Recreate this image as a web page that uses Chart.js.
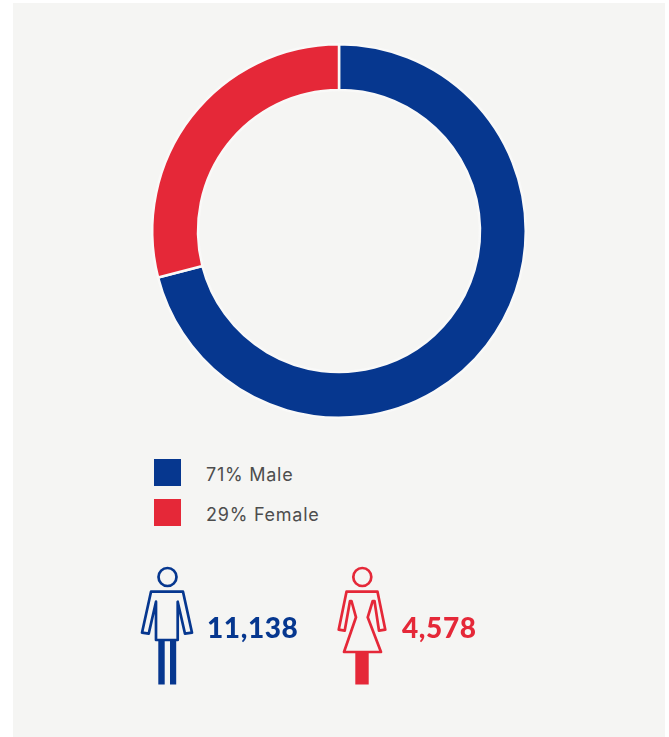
<!DOCTYPE html>
<html>
<head>
<meta charset="utf-8">
<script src="https://cdn.jsdelivr.net/npm/chart.js@4"></script>
<style>
html, body { margin: 0; padding: 0; background: #fff; }
#page { position: relative; width: 669px; height: 737px; overflow: hidden; }
#panel { position: absolute; left: 13px; top: 3px; width: 652px; height: 734px; background: #f5f5f3; }
#donut { position: absolute; left: 139px; top: 31px; width: 400px; height: 400px; }
.key { position: absolute; left: 154px; width: 27px; height: 27px; }
.keytext { position: absolute; left: 206px; font: 400 18px Inter, sans-serif; letter-spacing: 0.75px; color: #4d4d4d; line-height: 20px; white-space: nowrap; }
.count { position: absolute; font: 900 28px Lato, sans-serif; letter-spacing: 0.6px; line-height: 32px; white-space: nowrap; }
svg { position: absolute; left: 0; top: 0; }
</style>
</head>
<body>
<div id="page">
  <div id="panel"></div>
  <div id="donut"><canvas id="chart"></canvas></div>
  <div id="legend"></div>
  <svg width="669" height="737" fill="none" stroke-width="2.7" stroke-linejoin="round">
    <g stroke="#06378f">
      <circle cx="167.5" cy="577" r="9"/>
      <path d="M151 591.7H183L192 632.7L185 633.7L177.7 601.7V640H156V601.7L148.7 633.7L142 632.7Z"/>
      <rect x="158.3" y="640" width="6.4" height="44.5" fill="#06378f" stroke="none"/>
      <rect x="170" y="640" width="6.2" height="44.5" fill="#06378f" stroke="none"/>
    </g>
    <g stroke="#e52838">
      <circle cx="362.3" cy="577" r="9"/>
      <path d="M346.5 591.7H377.5L385.3 629.7L379 630.7L374.5 601H372.7L367.7 617.3L381 652H344L356 617.3L351.5 601H350L344.7 630.7L338.7 629.7Z"/>
      <rect x="355.3" y="652" width="13.4" height="32.5" fill="#e52838" stroke="none"/>
    </g>
  </svg>
  <div class="count" id="count0" style="left:207px;top:611px"></div>
  <div class="count" id="count1" style="left:402px;top:611px"></div>
</div>
<script>
const categories = ['Male', 'Female'];
const shares = [71, 29];
const counts = ['11,138', '4,578'];
const colors = ['#06378f', '#e52838'];

const legendTops = [459, 499];
const legend = document.getElementById('legend');
categories.forEach(function (name, i) {
    const box = document.createElement('div');
    box.className = 'key';
    box.style.top = legendTops[i] + 'px';
    box.style.background = colors[i];
    legend.appendChild(box);

    const label = document.createElement('div');
    label.className = 'keytext';
    label.style.top = (legendTops[i] + 6) + 'px';
    label.textContent = shares[i] + '% ' + name;
    legend.appendChild(label);

    const count = document.getElementById('count' + i);
    count.textContent = counts[i];
    count.style.color = colors[i];
});

new Chart(document.getElementById('chart'), {
    type: 'doughnut',
    data: {
        labels: categories,
        datasets: [{
            data: shares,
            backgroundColor: colors,
            borderColor: '#f9f9f8',
            borderWidth: 2.5
        }]
    },
    options: {
        responsive: true,
        maintainAspectRatio: true,
        aspectRatio: 1,
        animation: false,
        cutout: '75.5%',
        layout: { padding: 12 },
        plugins: {
            legend: { display: false },
            tooltip: { enabled: false }
        }
    }
});
</script>
</body>
</html>
